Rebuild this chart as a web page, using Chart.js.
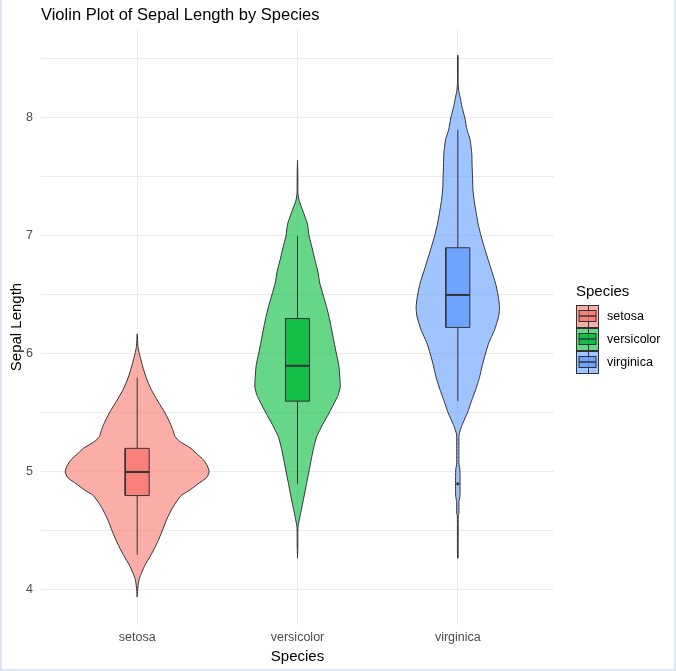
<!DOCTYPE html>
<html>
<head>
<meta charset="utf-8">
<script src="https://cdn.jsdelivr.net/npm/chart.js@4.4.1/dist/chart.umd.min.js"></script>
<style>
  html, body { margin: 0; padding: 0; background: #fff; }
  #wrap {
    width: 676px; height: 671px; box-sizing: border-box;
    border-left: 2px solid #dce7f3; border-right: 2px solid #dce7f3; border-bottom: 2px solid #dce7f3;
    background: #fff;
  }
  canvas { display: block; }
</style>
</head>
<body>
<div id="wrap"><canvas id="chart" width="672" height="669"></canvas></div>
<script>
'use strict';

// categories and labels
const SPECIES = ['setosa', 'versicolor', 'virginica'];
const TITLE = 'Violin Plot of Sepal Length by Species';
const X_TITLE = 'Species';
const Y_TITLE = 'Sepal Length';
const LEGEND_TITLE = 'Species';
const Y_TICK_LABELS = [4, 5, 6, 7, 8];

// violin outlines: sepal length and half width (in category units)
const SETOSA_Y = [3.94, 4.0, 4.05, 4.1, 4.2, 4.3, 4.4, 4.5, 4.6, 4.7, 4.8, 4.85, 4.9, 4.95, 5.0,
  5.05, 5.1, 5.16, 5.2, 5.26, 5.3, 5.35, 5.4, 5.5, 5.6, 5.7, 5.8, 5.9, 6.0, 6.05, 6.1, 6.17];
const SETOSA_W = [0, 0.003, 0.007, 0.014, 0.045, 0.087, 0.125, 0.156, 0.185, 0.222, 0.274, 0.332, 0.38, 0.432, 0.449,
  0.438, 0.415, 0.367, 0.336, 0.264, 0.236, 0.224, 0.21, 0.174, 0.129, 0.087, 0.056, 0.033, 0.014, 0.006, 0.003, 0];

const VERSICOLOR_Y = [4.27, 4.38, 4.53, 4.6, 4.7, 4.8, 4.9, 5.0, 5.1, 5.2, 5.3, 5.4, 5.5, 5.6, 5.65, 5.72,
  5.8, 5.9, 6.0, 6.1, 6.2, 6.3, 6.4, 6.5, 6.6, 6.7, 6.8, 6.9, 7.0, 7.1, 7.2, 7.3, 7.36, 7.52, 7.64];
const VERSICOLOR_W = [0, 0.002, 0.003, 0.012, 0.027, 0.042, 0.056, 0.071, 0.085, 0.1, 0.12, 0.156, 0.197, 0.235, 0.253, 0.266,
  0.264, 0.258, 0.243, 0.228, 0.214, 0.199, 0.181, 0.16, 0.139, 0.127, 0.108, 0.091, 0.072, 0.062, 0.037, 0.01, 0.003, 0.002, 0];

const VIRGINICA_Y = [4.27, 4.63, 4.65, 4.75, 4.79, 4.9, 5.02, 5.05, 5.08, 5.2, 5.32, 5.4, 5.5, 5.6, 5.7, 5.8, 5.9, 6.0,
  6.1, 6.2, 6.32, 6.4, 6.5, 6.6, 6.7, 6.8, 6.9, 7.0, 7.1, 7.2, 7.3, 7.4, 7.5, 7.6, 7.7, 7.82, 7.9, 8.0, 8.1,
  8.16, 8.23, 8.3, 8.53];
const VIRGINICA_W = [0.002, 0.003, 0.007, 0.007, 0.013, 0.014, 0.013, 0.009, 0.007, 0.007, 0.008, 0.027, 0.06, 0.085, 0.112, 0.135, 0.152, 0.172,
  0.195, 0.228, 0.255, 0.26, 0.251, 0.235, 0.212, 0.189, 0.166, 0.145, 0.127, 0.114, 0.102, 0.094, 0.092, 0.089, 0.087, 0.076, 0.057, 0.044, 0.025,
  0.017, 0.006, 0.002, 0.002];

// boxplot stats per species
const BOX_Q1 = [4.8, 5.6, 6.225];
const BOX_MEDIAN = [5.0, 5.9, 6.5];
const BOX_Q3 = [5.2, 6.3, 6.9];
const WHISKER_LO = [4.3, 4.9, 5.6];
const WHISKER_HI = [5.8, 7.0, 7.9];
const OUTLIERS = [[], [], [4.9]];

// styles
const COLORS = ['#F8766D', '#00BA38', '#619CFF'];
const INK = '#333333';
const GRID = '#ebebeb';
const FONT = '"Liberation Sans", Arial, Helvetica, sans-serif';
const BOX_HALF = 0.075;

const rgba = (hex, a) => {
  const n = parseInt(hex.slice(1), 16);
  return `rgba(${n >> 16}, ${(n >> 8) & 255}, ${n & 255}, ${a})`;
};

// closed outline: up the right side, down the left side
const violin_points = (x, ys, ws) => {
  const right = ys.map((y, i) => ({ x: x + ws[i], y: y }));
  const left = ys.map((y, i) => ({ x: x - ws[i], y: y })).reverse();
  return right.concat(left, [right[0]]);
};

const box_points = (x, lo, hi) => [
  { x: x - BOX_HALF, y: lo }, { x: x + BOX_HALF, y: lo },
  { x: x + BOX_HALF, y: hi }, { x: x - BOX_HALF, y: hi },
  { x: x - BOX_HALF, y: lo },
];

const VIOLINS = [[SETOSA_Y, SETOSA_W], [VERSICOLOR_Y, VERSICOLOR_W], [VIRGINICA_Y, VIRGINICA_W]];

const base = { pointRadius: 0, pointHoverRadius: 0, tension: 0, borderColor: INK };
const datasets = [];
SPECIES.forEach((name, i) => {
  const x = i + 1;
  datasets.push({
    ...base, label: name, order: 4, tension: 0.2,
    data: violin_points(x, VIOLINS[i][0], VIOLINS[i][1]),
    fill: 'shape', backgroundColor: rgba(COLORS[i], 0.6), borderWidth: 1,
  });
  datasets.push({
    ...base, order: 3, data: box_points(x, BOX_Q1[i], BOX_Q3[i]),
    fill: 'shape', backgroundColor: rgba(COLORS[i], 0.8), borderWidth: 1,
  });
  datasets.push({ ...base, order: 2, fill: false, borderWidth: 1, data: [{ x: x, y: WHISKER_LO[i] }, { x: x, y: BOX_Q1[i] }] });
  datasets.push({ ...base, order: 2, fill: false, borderWidth: 1, data: [{ x: x, y: BOX_Q3[i] }, { x: x, y: WHISKER_HI[i] }] });
  datasets.push({
    ...base, order: 1, fill: false, borderWidth: 2,
    data: [{ x: x - BOX_HALF, y: BOX_MEDIAN[i] }, { x: x + BOX_HALF, y: BOX_MEDIAN[i] }],
  });
  if (OUTLIERS[i].length) {
    datasets.push({
      order: 0, showLine: false, pointRadius: 1.6, pointBorderWidth: 0,
      pointBackgroundColor: INK, data: OUTLIERS[i].map((y) => ({ x: x, y: y })),
    });
  }
});

// title and boxplot-style legend keys
const labels_plugin = {
  id: 'labels',
  afterDraw: (chart) => {
    const ctx = chart.ctx;
    ctx.save();
    ctx.fillStyle = '#000';
    ctx.textBaseline = 'alphabetic';
    ctx.font = `16.5px ${FONT}`;
    ctx.fillText(TITLE, chart.chartArea.left, 20);

    ctx.font = `15px ${FONT}`;
    ctx.fillText(LEGEND_TITLE, 574, 296);

    SPECIES.forEach((name, i) => {
      const x0 = 574.5, y0 = 305.5 + i * 23, s = 22;
      const cx = x0 + s / 2, cy = y0 + s / 2 - 0.5;
      ctx.fillStyle = rgba(COLORS[i], 0.6);
      ctx.fillRect(x0, y0, s, s);
      ctx.strokeStyle = INK;
      ctx.lineWidth = 1;
      ctx.strokeRect(x0, y0, s, s);
      ctx.beginPath();
      ctx.moveTo(Math.round(cx) + 0.5, y0);
      ctx.lineTo(Math.round(cx) + 0.5, y0 + s);
      ctx.stroke();
      ctx.fillStyle = rgba(COLORS[i], 0.8);
      ctx.fillRect(x0 + 2.5, cy - 5.5, s - 5, 11);
      ctx.strokeRect(x0 + 2.5, cy - 5.5, s - 5, 11);
      ctx.beginPath();
      ctx.lineWidth = 1.5;
      ctx.moveTo(x0 + 2.5, Math.round(cy));
      ctx.lineTo(x0 + s - 2.5, Math.round(cy));
      ctx.stroke();

      ctx.fillStyle = '#000';
      ctx.textBaseline = 'middle';
      ctx.font = `12.5px ${FONT}`;
      ctx.fillText(name, 605, y0 + s / 2);
    });
    ctx.restore();
  },
};

new Chart(document.getElementById('chart'), {
  type: 'line',
  data: { datasets: datasets },
  plugins: [labels_plugin],
  options: {
    responsive: false,
    animation: false,
    events: [],
    layout: { padding: { left: 0, right: 120, top: 29, bottom: 0 } },
    plugins: {
      legend: { display: false },
      title: { display: false },
      tooltip: { enabled: false },
    },
    scales: {
      x: {
        type: 'linear',
        min: 0.4,
        max: 3.6,
        afterFit: (s) => { s.height = 44; },
        border: { display: false },
        grid: { color: GRID, lineWidth: 1, drawTicks: false },
        ticks: {
          stepSize: 1,
          includeBounds: false,
          padding: 5,
          color: '#4d4d4d',
          font: { family: FONT, size: 12.5 },
          callback: (v) => SPECIES[v - 1] ?? '',
        },
        title: {
          display: true,
          text: X_TITLE,
          color: '#000',
          font: { family: FONT, size: 15 },
          padding: { top: 0, bottom: 3 },
        },
      },
      y: {
        type: 'linear',
        min: 3.703,
        max: 8.754,
        afterFit: (s) => { s.width = 39; },
        border: { display: false },
        grid: { color: GRID, lineWidth: 1, drawTicks: false },
        ticks: {
          stepSize: 0.5,
          includeBounds: false,
          padding: 8,
          color: '#4d4d4d',
          font: { family: FONT, size: 12.5 },
          callback: (v) => Y_TICK_LABELS.includes(v) ? String(v) : '',
        },
        title: {
          display: true,
          text: Y_TITLE,
          color: '#000',
          font: { family: FONT, size: 15 },
          padding: { top: 6, bottom: 0 },
        },
      },
    },
  },
});
</script>
</body>
</html>
